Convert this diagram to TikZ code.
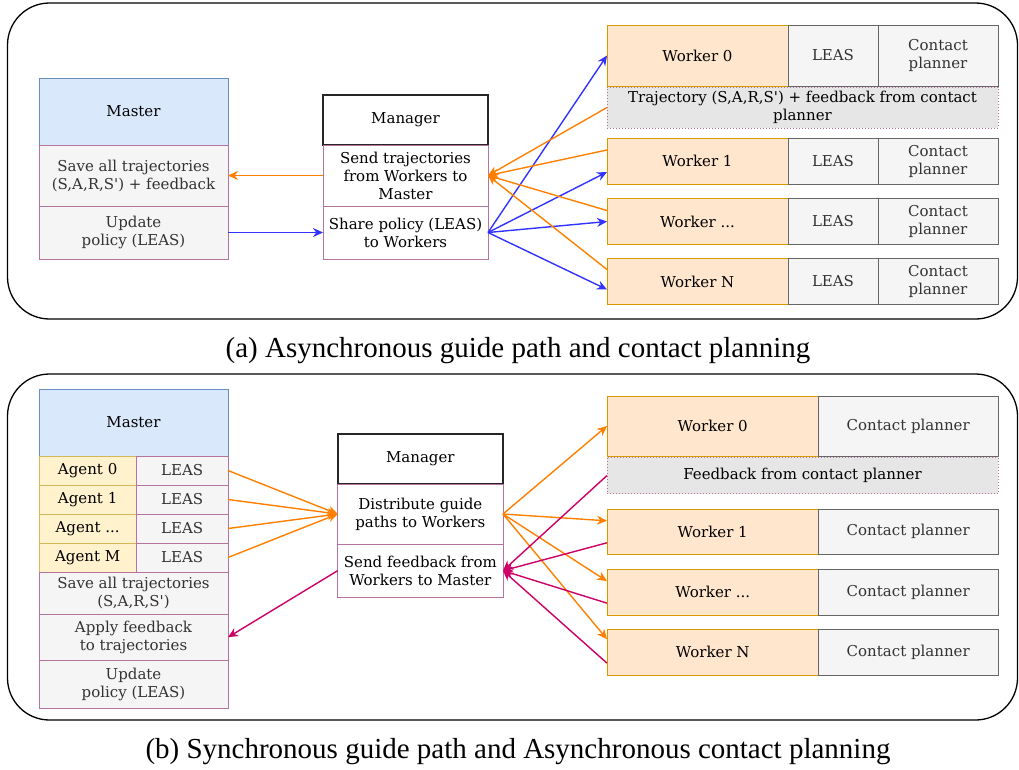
\documentclass[tikz,border=0pt]{standalone}
\usepackage{fontspec}
\setmainfont{DejaVu Serif}
\newfontfamily\capfont{Liberation Serif}
\usepackage{tikz}
\usetikzlibrary{arrows.meta}

\definecolor{hdfill}{HTML}{DAE8FC}
\definecolor{hddraw}{HTML}{6C8EBF}
\definecolor{rowfill}{HTML}{F5F5F5}
\definecolor{rowdraw}{HTML}{B5739D}
\definecolor{wkfill}{HTML}{FFE6CC}
\definecolor{wkdraw}{HTML}{D79B00}
\definecolor{agfill}{HTML}{FFF2CC}
\definecolor{agdraw}{HTML}{D6B656}
\definecolor{grdraw}{HTML}{666666}
\definecolor{fbfill}{HTML}{E6E6E6}
\definecolor{txtgray}{HTML}{333333}
\definecolor{arrorange}{HTML}{FF8000}
\definecolor{arrblue}{HTML}{3333FF}
\definecolor{arrpink}{HTML}{CC0066}

\begin{document}
\begin{tikzpicture}[x=1pt,y=-1pt,
		font=\fontsize{15}{18}\selectfont,
		sz/.style 2 args={minimum width=#1pt,minimum height=#2pt},
		box/.style={rectangle,draw,line width=1pt,anchor=north west,inner sep=0pt,outer sep=0pt,align=center},
		mhead/.style={box,fill=hdfill,draw=hddraw},
		mrow/.style={box,fill=rowfill,draw=rowdraw,text=txtgray},
		ghead/.style={box,fill=white,draw=black!85,line width=1.6pt},
		mgrrow/.style={box,fill=white,draw=rowdraw},
		worker/.style={box,fill=wkfill,draw=wkdraw},
		agent/.style={box,fill=agfill,draw=agdraw},
		part/.style={box,fill=rowfill,draw=grdraw,text=txtgray},
		fback/.style={box,fill=fbfill,draw=rowdraw,dotted},
		outerframe/.style={draw=black,line width=1.3pt,rounded corners=42pt},
		captext/.style={font=\capfont\fontsize{29}{32}\selectfont}]
	\useasboundingbox (0,0) rectangle (1019,769);

	% (a)
	\draw[outerframe] (7.5,3) rectangle (1017.5,319);
	\begin{scope}
		\node[mhead,sz={189}{67}] (masterA) at (39,78) {Master};
		\node[mrow,sz={189}{61}] (saveA) at (39,145) {Save all trajectories\\(S,A,R,S\textquotesingle) + feedback};
		\node[mrow,sz={189}{53}] (updA) at (39,206) {Update\\policy (LEAS)};

		\node[ghead,sz={165}{50}] (mgrA) at (323,95) {Manager};
		\node[mgrrow,sz={165}{61}] (sendA) at (323,145) {Send trajectories\\from Workers to\\Master};
		\node[mgrrow,sz={165}{53}] (shareA) at (323,206) {Share policy (LEAS)\\to Workers};

		\node[worker,sz={181}{61}] (wA0) at (607,25) {Worker 0};
		\node[part,sz={90}{61}] (leasA0) at (788,25) {LEAS};
		\node[part,sz={120}{61}] (cpA0) at (878,25) {Contact\\planner};
		\node[fback,sz={391}{41}] (trajA) at (607,87) {Trajectory (S,A,R,S\textquotesingle) + feedback from contact\\planner};
		\node[worker,sz={181}{46}] (wA1) at (607,138) {Worker 1};
		\node[part,sz={90}{46}] (leasA1) at (788,138) {LEAS};
		\node[part,sz={120}{46}] (cpA1) at (878,138) {Contact\\planner};
		\node[worker,sz={181}{46}] (wA2) at (607,198.5) {Worker ...};
		\node[part,sz={90}{46}] (leasA2) at (788,198.5) {LEAS};
		\node[part,sz={120}{46}] (cpA2) at (878,198.5) {Contact\\planner};
		\node[worker,sz={181}{46}] (wA3) at (607,258.5) {Worker N};
		\node[part,sz={90}{46}] (leasA3) at (788,258.5) {LEAS};
		\node[part,sz={120}{46}] (cpA3) at (878,258.5) {Contact\\planner};
	\end{scope}

	\begin{scope}[>={Stealth[length=10pt,width=9pt]},
				  every edge/.style={draw,line width=1.4pt}]
		\path [->] (sendA.west) edge[arrorange] (saveA.east);
		\path [->] (updA.east) edge[arrblue] (shareA.west);

		\path [->] (shareA.east) edge[arrblue] (wA0.west);
		\path [->] (shareA.east) edge[arrblue] ([yshift=-11pt]wA1.west);
		\path [->] (shareA.east) edge[arrblue] (wA2.west);
		\path [->] (shareA.east) edge[arrblue] ([yshift=-8pt]wA3.west);

		\path [->] (trajA.west) edge[arrorange] (sendA.east);
		\path [->] ([yshift=11pt]wA1.west) edge[arrorange] (sendA.east);
		\path [->] ([yshift=11pt]wA2.west) edge[arrorange] (sendA.east);
		\path [->] ([yshift=12pt]wA3.west) edge[arrorange] (sendA.east);
	\end{scope}

	\node[captext] (capA) at (518,351) {(a) Asynchronous guide path and contact planning};

	% (b)
	\draw[outerframe] (7.5,374) rectangle (1017.5,720);
	\begin{scope}
		\node[mhead,sz={189}{67}] (masterB) at (39,389) {Master};
		\node[agent,sz={97.3}{29}] (agB0) at (39,456) {Agent 0};
		\node[mrow,sz={91.7}{29}] (leasB0) at (136.3,456) {LEAS};
		\node[agent,sz={97.3}{29}] (agB1) at (39,485) {Agent 1};
		\node[mrow,sz={91.7}{29}] (leasB1) at (136.3,485) {LEAS};
		\node[agent,sz={97.3}{29}] (agB2) at (39,514) {Agent ...};
		\node[mrow,sz={91.7}{29}] (leasB2) at (136.3,514) {LEAS};
		\node[agent,sz={97.3}{29}] (agB3) at (39,543) {Agent M};
		\node[mrow,sz={91.7}{29}] (leasB3) at (136.3,543) {LEAS};
		\node[mrow,sz={189}{42.5}] (saveB) at (39,572) {Save all trajectories\\(S,A,R,S\textquotesingle)};
		\node[mrow,sz={189}{45.5}] (applyB) at (39,614.5) {Apply feedback\\to trajectories};
		\node[mrow,sz={189}{48.5}] (updB) at (39,660) {Update\\policy (LEAS)};

		\node[ghead,sz={165.3}{50}] (mgrB) at (337.7,434) {Manager};
		\node[mgrrow,sz={165.3}{60}] (distB) at (337.7,484) {Distribute guide\\paths to Workers};
		\node[mgrrow,sz={165.3}{53.3}] (sendB) at (337.7,544) {Send feedback from\\Workers to Master};

		\node[worker,sz={211.5}{60}] (wB0) at (607,396) {Worker 0};
		\node[part,sz={179.5}{60}] (cpB0) at (818.5,396) {Contact planner};
		\node[fback,sz={391}{36.4}] (fbkB) at (607,457.3) {Feedback from contact planner};
		\node[worker,sz={211.5}{45}] (wB1) at (607,509.3) {Worker 1};
		\node[part,sz={179.5}{45}] (cpB1) at (818.5,509.3) {Contact planner};
		\node[worker,sz={211.5}{45.7}] (wB2) at (607,569.3) {Worker ...};
		\node[part,sz={179.5}{45.7}] (cpB2) at (818.5,569.3) {Contact planner};
		\node[worker,sz={211.5}{45.7}] (wB3) at (607,629.3) {Worker N};
		\node[part,sz={179.5}{45.7}] (cpB3) at (818.5,629.3) {Contact planner};
	\end{scope}

	\begin{scope}[>={Stealth[length=10pt,width=9pt]},
				  every edge/.style={draw,line width=1.4pt}]
		\path [->] (leasB0.east) edge[arrorange] (distB.west);
		\path [->] (leasB1.east) edge[arrorange] (distB.west);
		\path [->] (leasB2.east) edge[arrorange] (distB.west);
		\path [->] (leasB3.east) edge[arrorange] (distB.west);
		\path [->] (sendB.west) edge[arrpink] (applyB.east);

		\path [->] (distB.east) edge[arrorange] (wB0.west);
		\path [->] (distB.east) edge[arrorange] ([yshift=11pt]wB1.west);
		\path [->] (distB.east) edge[arrorange] ([yshift=11pt]wB2.west);
		\path [->] (distB.east) edge[arrorange] ([yshift=13pt]wB3.west);

		\path [->] (fbkB.west) edge[arrpink] (sendB.east);
		\path [->] ([yshift=-11pt]wB1.west) edge[arrpink] (sendB.east);
		\path [->] ([yshift=-11pt]wB2.west) edge[arrpink] (sendB.east);
		\path [->] ([yshift=-11pt]wB3.west) edge[arrpink] (sendB.east);
	\end{scope}

	\node[captext] (capB) at (518,752) {(b) Synchronous guide path and Asynchronous contact planning};
\end{tikzpicture}
\end{document}
